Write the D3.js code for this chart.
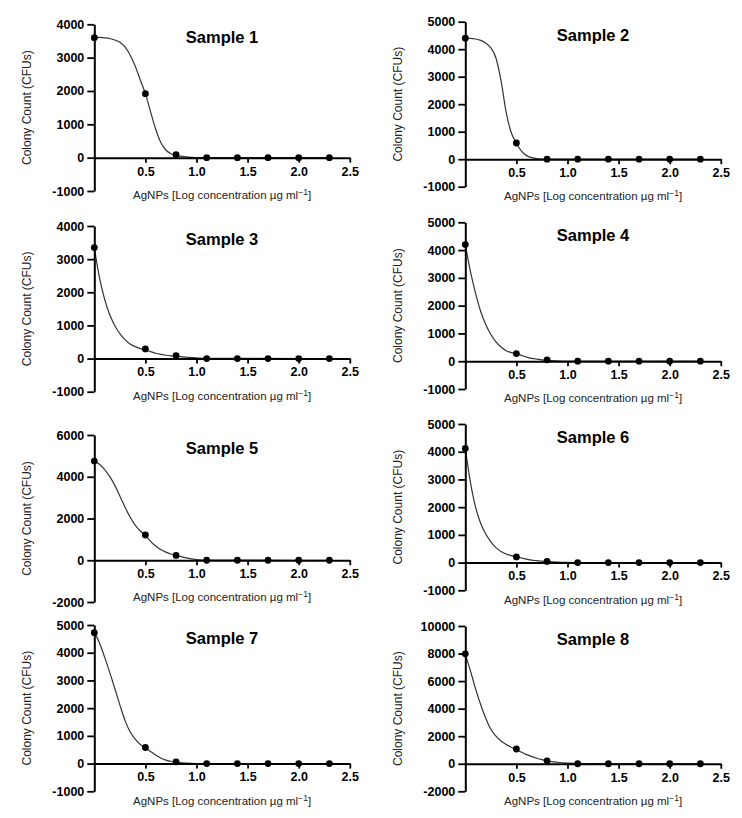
<!DOCTYPE html>
<html><head><meta charset="utf-8">
<script src="https://cdn.jsdelivr.net/npm/d3@7"></script>
<style>body{margin:0;background:#fff}</style>
</head><body>
<svg id="chart" width="742" height="818"></svg>
<script>
// ---------- DATA ----------
const concentrations = [0, 0.5, 0.8, 1.1, 1.4, 1.7, 2.0, 2.3];
const sampleNames = ["Sample 1","Sample 2","Sample 3","Sample 4","Sample 5","Sample 6","Sample 7","Sample 8"];

const sample1Counts = [3600, 1920, 90, 0, 0, 0, 0, 0];
const sample2Counts = [4400, 590, 0, 0, 0, 0, 0, 0];
const sample3Counts = [3350, 290, 90, 0, 0, 0, 0, 0];
const sample4Counts = [4200, 275, 50, 0, 0, 0, 0, 0];
const sample5Counts = [4750, 1210, 230, 0, 0, 0, 0, 0];
const sample6Counts = [4120, 205, 40, 0, 0, 0, 0, 0];
const sample7Counts = [4720, 580, 60, 0, 0, 0, 0, 0];
const sample8Counts = [7980, 1070, 210, 0, 0, 0, 0, 0];

// fitted curve at these x positions
const fitX = [0, 0.05, 0.1, 0.15, 0.2, 0.25, 0.3, 0.35, 0.4, 0.45, 0.5, 0.55, 0.6, 0.65, 0.7, 0.75, 0.8, 0.9, 1.0, 1.1, 2.3];
const sample1Fit = [3610, 3605, 3595, 3575, 3530, 3460, 3320, 3080, 2750, 2330, 1920, 1380, 860, 460, 230, 120, 70, 25, 5, 0, 0];
const sample2Fit = [4400, 4395, 4370, 4320, 4220, 4050, 3680, 2850, 1700, 960, 590, 290, 130, 55, 20, 8, 0, 0, 0, 0, 0];
const sample3Fit = [3350, 2450, 1800, 1330, 1000, 750, 570, 440, 360, 300, 260, 210, 160, 125, 100, 80, 65, 40, 18, 5, 0];
const sample4Fit = [4200, 3230, 2450, 1800, 1320, 960, 700, 510, 380, 310, 270, 210, 150, 105, 75, 50, 35, 15, 5, 0, 0];
const sample5Fit = [4750, 4600, 4350, 4020, 3600, 3080, 2550, 2070, 1680, 1400, 1200, 900, 680, 510, 390, 300, 230, 110, 35, 5, 0];
const sample6Fit = [4120, 2900, 2000, 1420, 1030, 750, 540, 400, 310, 250, 205, 165, 125, 90, 70, 50, 35, 15, 5, 0, 0];
const sample7Fit = [4735, 4360, 3850, 3300, 2720, 2120, 1560, 1150, 880, 690, 570, 440, 310, 200, 125, 85, 55, 15, 3, 0, 0];
const sample8Fit = [7960, 6750, 5450, 4300, 3300, 2500, 2000, 1650, 1400, 1200, 1020, 840, 660, 520, 400, 300, 215, 110, 45, 10, 0];

const yTicks1 = [-1000, 0, 1000, 2000, 3000, 4000];
const yTicks2 = [-1000, 0, 1000, 2000, 3000, 4000, 5000];
const yTicks3 = [-1000, 0, 1000, 2000, 3000, 4000];
const yTicks4 = [-1000, 0, 1000, 2000, 3000, 4000, 5000];
const yTicks5 = [-2000, 0, 2000, 4000, 6000];
const yTicks6 = [-1000, 0, 1000, 2000, 3000, 4000, 5000];
const yTicks7 = [-1000, 0, 1000, 2000, 3000, 4000, 5000];
const yTicks8 = [-2000, 0, 2000, 4000, 6000, 8000, 10000];
const xTicks = [0.5, 1.0, 1.5, 2.0, 2.5];
const xDomain = [0, 2.5];

const xLabel = "AgNPs [Log concentration µg ml";
const yLabel = "Colony Count (CFUs)";

const samples = [
  {name: sampleNames[0], counts: sample1Counts, fit: sample1Fit, ticks: yTicks1},
  {name: sampleNames[1], counts: sample2Counts, fit: sample2Fit, ticks: yTicks2},
  {name: sampleNames[2], counts: sample3Counts, fit: sample3Fit, ticks: yTicks3},
  {name: sampleNames[3], counts: sample4Counts, fit: sample4Fit, ticks: yTicks4},
  {name: sampleNames[4], counts: sample5Counts, fit: sample5Fit, ticks: yTicks5},
  {name: sampleNames[5], counts: sample6Counts, fit: sample6Fit, ticks: yTicks6},
  {name: sampleNames[6], counts: sample7Counts, fit: sample7Fit, ticks: yTicks7},
  {name: sampleNames[7], counts: sample8Counts, fit: sample8Fit, ticks: yTicks8}
];

// ---------- LAYOUT ----------
const colX = [94.3, 465.3];
const panelTops = [24.3, 21.7, 226, 222.3, 435, 424, 625, 626];
const panelBottoms = [191, 186.7, 391.7, 389, 602, 590.3, 791.3, 791.3];
const plotW = 255.5;
const FONT = "'Liberation Sans', Arial, Helvetica, sans-serif";

const svg = d3.select("#chart");

samples.forEach((s, i) => {
  const ox = colX[i % 2];
  const top = panelTops[i], bottom = panelBottoms[i];
  const g = svg.append("g").attr("transform", `translate(${ox},0)`);

  const x = d3.scaleLinear().domain(xDomain).range([0, plotW]);
  const y = d3.scaleLinear().domain(d3.extent(s.ticks)).range([bottom, top]);

  // fitted curve
  const line = d3.line().x((d, k) => x(fitX[k])).y(d => y(d)).curve(d3.curveMonotoneX);
  g.append("path").datum(s.fit).attr("d", line)
    .attr("fill", "none").attr("stroke", "#333").attr("stroke-width", 1.2);

  // y axis
  const ya = g.append("g").call(d3.axisLeft(y).tickValues(s.ticks).tickSize(7).tickSizeOuter(0).tickPadding(3)
    .tickFormat(d => String(d)));
  // x axis at y=0
  const xa = g.append("g").attr("transform", `translate(0,${y(0)})`)
    .call(d3.axisBottom(x).tickValues(xTicks).tickSize(5).tickSizeOuter(0).tickPadding(4)
      .tickFormat(d3.format(".1f")));
  [ya, xa].forEach(a => {
    a.select(".domain").attr("stroke", "#000").attr("stroke-width", 2);
    a.selectAll(".tick line").attr("stroke", "#000").attr("stroke-width", 1.8);
    a.selectAll(".tick text").attr("fill", "#000").style("font-family", FONT)
      .style("font-size", "12.5px").style("font-weight", "bold");
  });

  // points
  g.selectAll("circle.pt").data(s.counts).enter().append("circle")
    .attr("class", "pt")
    .attr("cx", (d, k) => x(concentrations[k]))
    .attr("cy", d => y(d))
    .attr("r", 3.4).attr("fill", "#000");

  // title
  g.append("text").attr("x", x(1.25)).attr("y", top + 19)
    .attr("text-anchor", "middle").style("font-family", FONT)
    .style("font-size", "16.5px").style("font-weight", "bold").attr("fill", "#000")
    .text(s.name);

  // x label
  const xl = g.append("text").attr("x", x(1.25)).attr("y", y(0) + 41)
    .attr("text-anchor", "middle").style("font-family", FONT)
    .style("font-size", "11.5px").attr("fill", "#222");
  xl.append("tspan").text(xLabel);
  xl.append("tspan").attr("dy", -4).style("font-size", "8.5px").text("−1");
  xl.append("tspan").attr("dy", 4).text("]");

  // y label
  g.append("text")
    .attr("transform", `translate(-63,${(top + bottom) / 2}) rotate(-90)`)
    .attr("text-anchor", "middle").style("font-family", FONT)
    .style("font-size", "12px").attr("fill", "#222")
    .text(yLabel);
});
</script>
</body></html>
